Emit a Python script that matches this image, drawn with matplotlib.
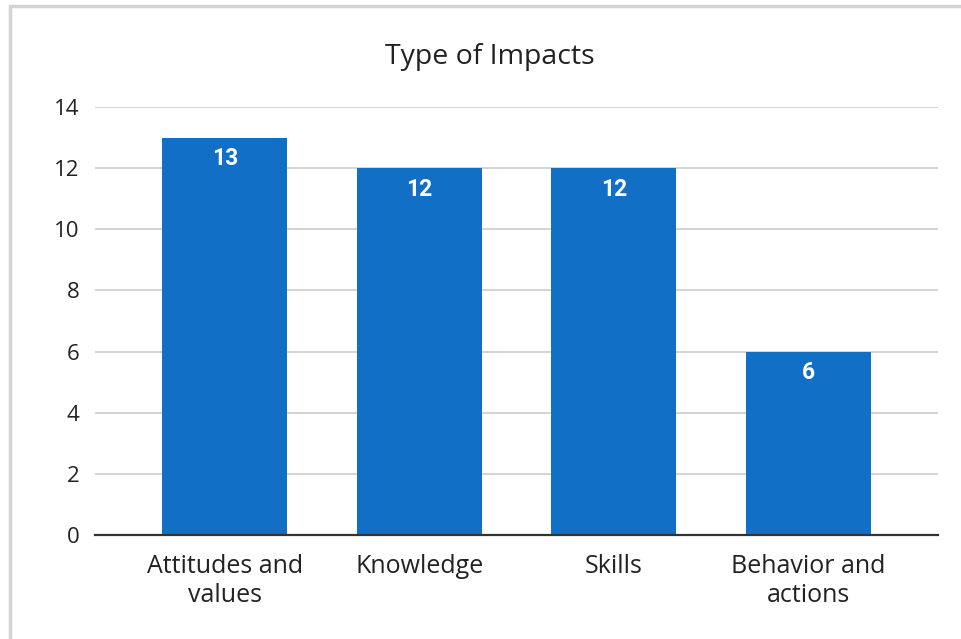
import matplotlib
matplotlib.use('Agg')
import matplotlib.pyplot as plt
import numpy as np
from matplotlib.patches import Rectangle

#%% data
categories = ['Attitudes and\nvalues', 'Knowledge', 'Skills', 'Behavior and\nactions']
counts = [13, 12, 12, 6]
yticks = [0, 2, 4, 6, 8, 10, 12, 14]

bar_color = '#116FC5'
plt.rcParams['font.family'] = ['Open Sans', 'DejaVu Sans']

#%% figure
fig = plt.figure(figsize=(9.61, 6.39), dpi=100)
# light frame round the chart (only left/top visible in the reference)
fig.add_artist(Rectangle((10/961, -0.05), 1.2, 1 - 6/639 + 0.05, transform=fig.transFigure,
                         fill=False, edgecolor='#D3D3D3', linewidth=2.5))

ax = fig.add_axes([95/961, 1 - 535/639, (938 - 95)/961, (535 - 107)/639])
x = np.arange(len(categories))
bars = ax.bar(x, counts, width=0.643, color=bar_color, zorder=3)

ax.set_xlim(-0.668, 3.668)
ax.set_ylim(0, 14)
ax.set_yticks(yticks)
ax.set_yticklabels([str(t) for t in yticks], fontsize=16, color='#222222')
ax.set_xticks(x)
ax.set_xticklabels(categories, fontsize=18, color='#222222', linespacing=1.17)
ax.tick_params(axis='both', length=0)
ax.tick_params(axis='y', pad=11)
ax.tick_params(axis='x', pad=14)
ax.grid(axis='y', color='#D0D0D0', linewidth=1.3, zorder=0)
for s in ['top', 'right', 'left']:
    ax.spines[s].set_visible(False)
ax.spines['bottom'].set_color('#333333')
ax.spines['bottom'].set_linewidth(1.6)
ax.spines['bottom'].set_zorder(4)

for b, v in zip(bars, counts):
    ax.text(b.get_x() + b.get_width()/2, v - 0.31, str(v), ha='center', va='top',
            color='white', fontsize=16.5, fontweight='bold', family=['Roboto', 'DejaVu Sans'], zorder=5)

fig.text(490/961, 1 - 57/639, 'Type of Impacts', ha='center', va='center',
         fontsize=20.5, color='#222222')

plt.savefig('out.png', dpi=100)
